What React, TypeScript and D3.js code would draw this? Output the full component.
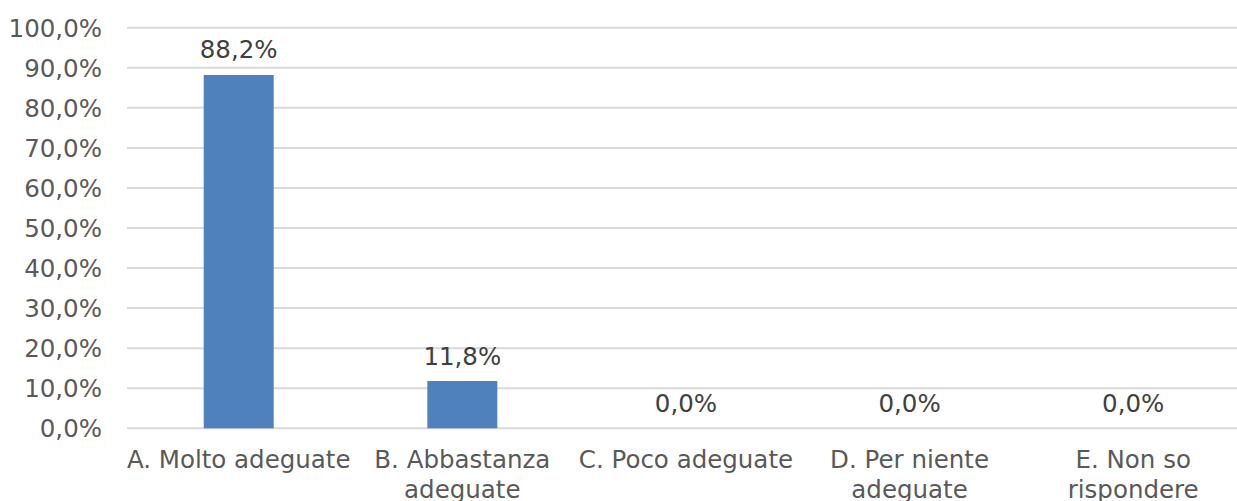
import React from "react";
import * as d3 from "d3";

const categories: string[][] = [
  ["A. Molto adeguate"],
  ["B. Abbastanza", "adeguate"],
  ["C. Poco adeguate"],
  ["D. Per niente", "adeguate"],
  ["E. Non so", "rispondere"],
];
const values: number[] = [88.2, 11.8, 0.0, 0.0, 0.0];
const yTicks: number[] = [0, 10, 20, 30, 40, 50, 60, 70, 80, 90, 100];

const W = 1237;
const H = 501;
const FONT = "'DejaVu Sans', Verdana, sans-serif";
const FS = 24.5;
const fmt = (v: number) => v.toFixed(1).replace(".", ",") + "%";

export default function App() {
  const keys = categories.map((c) => c.join(" "));
  const x = d3
    .scaleBand<string>()
    .domain(keys)
    .range([126.9, 1245])
    .paddingInner(0.687)
    .paddingOuter(0.3435);
  const y = d3.scaleLinear().domain([0, 100]).range([428.3, 27.7]);

  return (
    <svg
      width={W}
      height={H}
      style={{ position: "absolute", left: 0, top: 0, background: "#fff" }}
      fontFamily={FONT}
    >
      {yTicks.map((t) => (
        <g key={t}>
          <line
            x1={126.9}
            x2={W}
            y1={y(t)}
            y2={y(t)}
            stroke="#d9d9d9"
            strokeWidth={2}
          />
          <text
            x={102}
            y={y(t)}
            dy="0.36em"
            textAnchor="end"
            fontSize={FS}
            fill="#595959"
          >
            {fmt(t)}
          </text>
        </g>
      ))}
      {values.map((v, i) => {
        const k = keys[i];
        const bx = x(k)!;
        const cx = bx + x.bandwidth() / 2;
        return (
          <g key={k}>
            {v > 0 && (
              <rect
                x={bx}
                y={y(v)}
                width={x.bandwidth()}
                height={y(0) - y(v)}
                fill="#4f81bd"
              />
            )}
            <text
              x={cx}
              y={y(v) - 16.5}
              textAnchor="middle"
              fontSize={FS}
              fill="#404040"
            >
              {fmt(v)}
            </text>
            <text textAnchor="middle" fontSize={FS} fill="#595959">
              {categories[i].map((line, j) => (
                <tspan key={j} x={cx} y={468 + j * 30}>
                  {line}
                </tspan>
              ))}
            </text>
          </g>
        );
      })}
    </svg>
  );
}
